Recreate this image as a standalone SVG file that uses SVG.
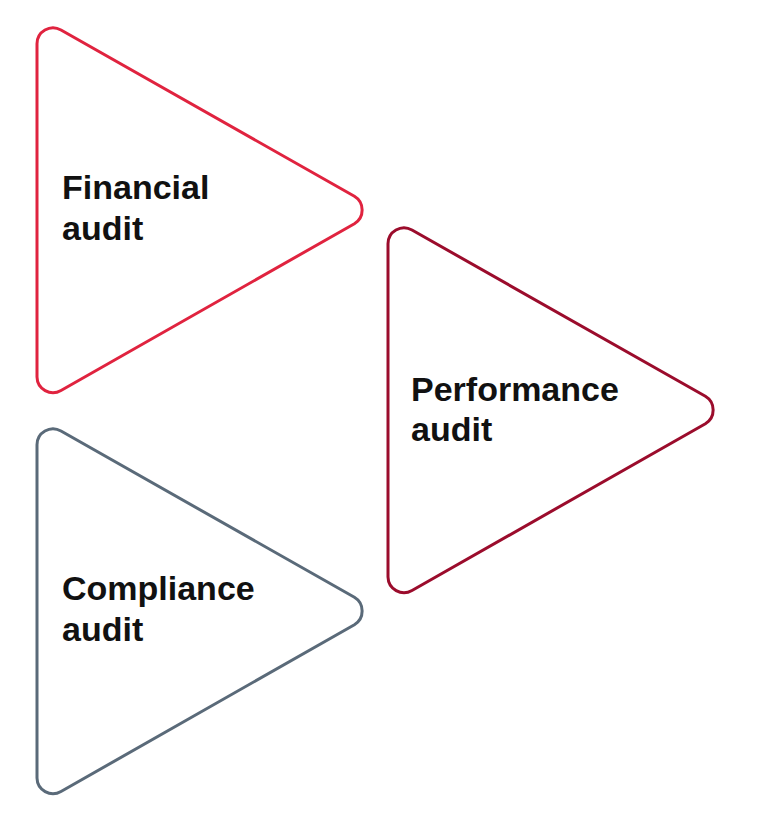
<svg xmlns="http://www.w3.org/2000/svg" width="760" height="817" viewBox="0 0 760 817">
<defs>
<style>
.tri{fill:none;stroke-width:3;stroke-linejoin:round}
.lbl{font-family:"Liberation Sans",Arial,sans-serif;font-weight:bold;font-size:34px;fill:#111111}
</style>
<path id="tri" d="M37,44 A16,16 0 0 1 61,30 L354.4,196.3 A16,16 0 0 1 354.4,223.7 L61,390.5 A16,16 0 0 1 37,377 Z"/>
</defs>
<rect width="760" height="817" fill="#ffffff"/>
<g id="connectors"></g>
<g id="financial">
<use href="#tri" class="tri" stroke="#e0233f"/>
<text class="lbl" x="62" y="199">Financial</text>
<text class="lbl" x="62" y="240">audit</text>
</g>
<g id="performance">
<use href="#tri" class="tri" stroke="#9b0c2c" transform="translate(351,200)"/>
<text class="lbl" x="411" y="401">Performance</text>
<text class="lbl" x="411" y="441">audit</text>
</g>
<g id="compliance">
<use href="#tri" class="tri" stroke="#5a6a79" transform="translate(0,401)"/>
<text class="lbl" x="62" y="600">Compliance</text>
<text class="lbl" x="62" y="641">audit</text>
</g>
</svg>
